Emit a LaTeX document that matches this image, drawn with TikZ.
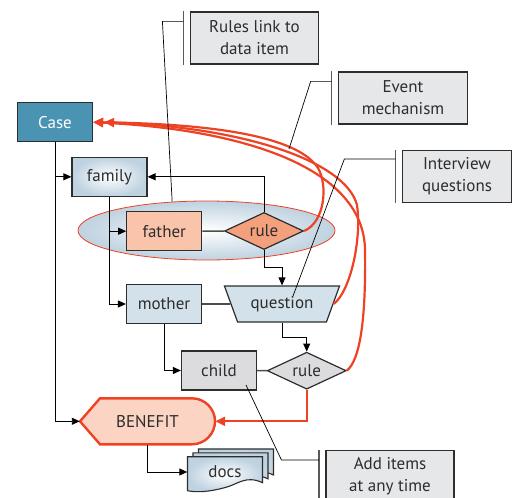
\documentclass[tikz,border=0pt]{standalone}
\usepackage{fontspec}
\setmainfont{PT Sans}
\usetikzlibrary{shapes.geometric,arrows.meta}

\definecolor{casefill}{RGB}{74,147,178}
\definecolor{paleblue}{RGB}{190,210,224}
\definecolor{flatblue}{RGB}{211,225,234}
\definecolor{salmon}{RGB}{249,196,170}
\definecolor{salmondark}{RGB}{244,160,125}
\definecolor{lightgrey}{RGB}{220,220,222}
\definecolor{notegrey}{RGB}{230,231,233}
\definecolor{benefitfill}{RGB}{251,212,195}
\definecolor{eventred}{RGB}{238,66,36}
\definecolor{inkgrey}{RGB}{45,45,45}

\begin{document}
\begin{tikzpicture}[x=1pt, y=-1pt, font=\fontsize{17}{22}\selectfont]
\tikzstyle{every node} = [text=inkgrey, inner sep=0]
\tikzstyle{box} = [draw=inkgrey, line width=1.2, rectangle, minimum width=75, minimum height=39]
\tikzstyle{bluebox} = [box, shading=radial, inner color=white, outer color=paleblue]
\tikzstyle{flatbox} = [box, fill=flatblue]
\tikzstyle{salmonbox} = [box, fill=salmon]
\tikzstyle{greybox} = [box, fill=lightgrey]
\tikzstyle{rulebox} = [draw=inkgrey, line width=1.2, diamond, aspect=2, minimum width=79, minimum height=37]
\tikzstyle{note} = [draw=inkgrey, line width=1.2, fill=notegrey, align=center, minimum height=52]
\tikzstyle{bracket} = [draw=black!65, line width=1.2]
\tikzstyle{leader} = [draw=black, line width=0.7]
\tikzstyle{link} = [draw=black, line width=0.9, -{Triangle[length=8pt,width=7pt]}]
\tikzstyle{plainlink} = [draw=black!70, line width=1.6]
\tikzstyle{eventlink} = [draw=eventred, line width=2.2, -{Triangle[length=10pt,width=9pt]}]
\tikzstyle{sheet} = [draw=inkgrey, line width=1.1, shading=radial, inner color=white, outer color=paleblue]
\useasboundingbox (0,0) rectangle (518,497);
\node[ellipse, draw=eventred, line width=0.8, shading=radial, inner color=white, outer color=paleblue, minimum width=257, minimum height=59] (group) at (206.5,230.5) {};
\node[box, fill=casefill, text=white] (case) at (55,122.2) {Case};
\node[bluebox] (family) at (109.5,176.8) {family};
\node[salmonbox] (father) at (164.3,231.2) {father};
\node[rulebox, fill=salmondark] (rule1) at (264,231) {rule};
\node[flatbox] (mother) at (164,304) {mother};
\node[trapezium, trapezium left angle=121, trapezium right angle=121, trapezium stretches=true, draw=inkgrey, line width=1.2, fill=flatblue, minimum width=116, minimum height=36] (question) at (282,304) {question};
\node[greybox] (child) at (219,370.5) {child};
\node[rulebox, fill=lightgrey] (rule2) at (306.7,370.7) {rule};
\draw[draw=eventred, line width=2.4, fill=benefitfill] (80,421.3) -- (100,398.3) -- (192,398.3) arc[start angle=90, end angle=-90, radius=23pt] -- (100,444.3) -- cycle;
\node[minimum width=135, minimum height=46] (benefit) at (147.5,421.3) {BENEFIT};
\begin{scope}[shift={(187.5,456.7)}]
\foreach \d in {11,5.5,0}
  \draw[sheet, shift={(\d,{-0.7*\d})}] (0,0) -- (75,0) -- (75,26) .. controls (58,18) and (50,28) .. (37,31) .. controls (22,35) and (10,36) .. (0,34) -- cycle;
\end{scope}
\node[minimum width=75, minimum height=30] (docs) at (225,472) {docs};
\node[note, minimum width=128] (rulesnote) at (254.5,38) {Rules link to\\data item};
\node[note, minimum width=128.5] (eventnote) at (403,98) {Event\\mechanism};
\node[note, minimum width=109] (interviewnote) at (457,176.5) {Interview\\questions};
\node[note, minimum width=128] (addnote) at (390,476.5) {Add items\\at any time};
\coordinate (evtpoint) at (289,149);
\draw[link] (case.south) |- (benefit.west);
\draw[link] (case.south |- family) -- (family.west);
\draw[link] (family.south) |- (mother.west);
\draw[link] (family.south |- father) -- (father.west);
\draw[plainlink] (father) -- (rule1);
\draw[link] (rule1.north) |- (family.east);
\draw[link] (rule1.south) -- ++(0,17) -| (question.north);
\draw[plainlink] (mother) -- (question);
\draw[link] (mother.south) |- (child.west);
\draw[link] (question.south) -- ++(0,15) -| (rule2.north);
\draw[plainlink] (child) -- (rule2);
\draw[link] (benefit.south) |- (docs.west);
\draw[eventlink] (rule2.south) |- (benefit.east);
\draw[eventlink] (rule1.east) .. controls (325,222) and (328,185) .. (318,168) .. controls (300,140) and (230,124) .. (case.east);
\draw[eventlink] (question.east) .. controls (350,292) and (362,240) .. (357,205) .. controls (345,160) and (240,127) .. ([xshift=11]case.east);
\draw[eventlink] (rule2.east) .. controls (360,360) and (366,320) .. (365,250) .. controls (364,170) and (250,130) .. (case.east);
\foreach \n in {rulesnote,eventnote,interviewnote,addnote}
  \draw[bracket] ([xshift=-6.5]\n.north west) -- ([xshift=-6.5]\n.south west);
\draw[leader] ([xshift=-6.5,yshift=-10]rulesnote.north west) -- ++(-21,0) -- (group.140);
\draw[leader] ([xshift=-6.5,yshift=-10]eventnote.north west) -- ++(-21,0) -- (evtpoint);
\draw[leader] ([xshift=-6.5,yshift=-9]interviewnote.north west) -- ++(-51,0) -- ([shift={(11,-8)}]question.center);
\draw[leader] ([xshift=-6.5,yshift=-10]addnote.north west) -- ++(-37.5,0) -- ([shift={(27,14.5)}]child.center);
\end{tikzpicture}
\end{document}
